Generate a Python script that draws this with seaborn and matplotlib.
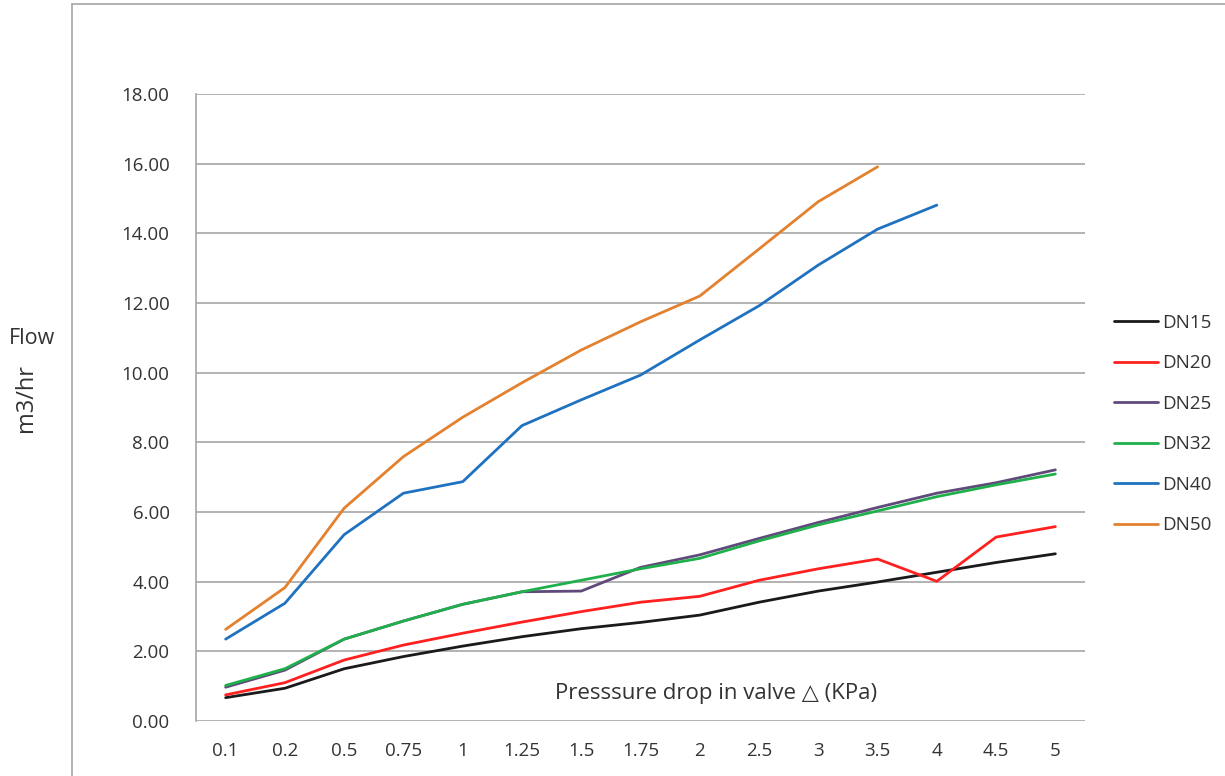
import numpy as np
import pandas as pd
import matplotlib
matplotlib.use("Agg")
import matplotlib.pyplot as plt
from matplotlib.lines import Line2D
import seaborn as sns

pressure = ["0.1", "0.2", "0.5", "0.75", "1", "1.25", "1.5", "1.75", "2", "2.5", "3", "3.5", "4", "4.5", "5"]
dn15 = [0.67, 0.94, 1.50, 1.85, 2.15, 2.42, 2.65, 2.83, 3.04, 3.41, 3.73, 3.99, 4.27, 4.55, 4.80]
dn20 = [0.75, 1.10, 1.75, 2.18, 2.52, 2.84, 3.14, 3.41, 3.58, 4.04, 4.37, 4.65, 4.01, 5.28, 5.58]
dn25 = [0.97, 1.46, 2.35, 2.87, 3.35, 3.71, 3.73, 4.41, 4.77, 5.24, 5.70, 6.13, 6.54, 6.84, 7.21]
dn32 = [1.02, 1.50, 2.35, 2.87, 3.35, 3.71, 4.04, 4.37, 4.67, 5.17, 5.63, 6.03, 6.44, 6.78, 7.09]
dn40 = [2.35, 3.38, 5.35, 6.54, 6.87, 8.48, 9.22, 9.93, 10.94, 11.92, 13.09, 14.12, 14.81, np.nan, np.nan]
dn50 = [2.63, 3.83, 6.11, 7.59, 8.72, 9.71, 10.65, 11.46, 12.20, 13.55, 14.91, 15.91, np.nan, np.nan, np.nan]
series_names = ["DN15", "DN20", "DN25", "DN32", "DN40", "DN50"]
series_values = [dn15, dn20, dn25, dn32, dn40, dn50]
colors = ["#1a1a1a", "#ff2020", "#604a7b", "#1fb04c", "#1f72c0", "#e3812f"]

rows = []
for name, vals in zip(series_names, series_values):
    for i, (p, v) in enumerate(zip(pressure, vals)):
        rows.append({"idx": i, "pressure": p, "flow": v, "size": name})
df = pd.DataFrame(rows)

sns.set_theme(style="white")
FONT = ["Open Sans", "DejaVu Sans"]
plt.rcParams["font.family"] = FONT
TXT = "#333333"

fig = plt.figure(figsize=(12.25, 7.76), dpi=100)
ax = fig.add_axes([196 / 1225, 1 - 721 / 776, (1085 - 196) / 1225, (721 - 94) / 776])

sns.lineplot(data=df, x="idx", y="flow", hue="size", hue_order=series_names,
             palette=colors, linewidth=2.0, ax=ax, legend=True, sort=False)

ax.set_xlim(-0.5, len(pressure) - 0.5)
ax.set_ylim(0, 18)
yt = np.arange(0, 18.1, 2)
ax.set_yticks(yt)
ax.set_yticklabels([f"{v:.2f}" for v in yt], fontsize=13.5, color=TXT)
ax.set_xticks(range(len(pressure)))
ax.set_xticklabels(pressure, fontsize=13.5, color=TXT)
ax.tick_params(axis="x", length=0, pad=15)
ax.tick_params(axis="y", length=0, pad=19)
ax.yaxis.grid(True, color="#a6a6a6", linewidth=1.2)
ax.set_axisbelow(True)
for s in ["top", "right", "bottom"]:
    ax.spines[s].set_visible(False)
ax.spines["left"].set_color("#a6a6a6")
ax.spines["left"].set_linewidth(1.2)
ax.set_xlabel("")
ax.set_ylabel("")

fig.text(716 / 1225, 1 - 694 / 776, "Presssure drop in valve \u25b3 (KPa)",
         ha="center", va="center", fontsize=16, color=TXT)

fig.text(32 / 1225, 1 - 339 / 776, "Flow", ha="center", va="center", fontsize=15.5, color=TXT)
fig.text(26 / 1225, 1 - 398 / 776, "m3/hr", ha="center", va="center", fontsize=17,
         rotation=90, color=TXT, family=["Liberation Sans Narrow", "Open Sans", "DejaVu Sans"])

handles, labels = ax.get_legend_handles_labels()
ax.legend(handles, labels, loc="upper left", bbox_to_anchor=(1097 / 1225, 1 - 297 / 776),
          bbox_transform=fig.transFigure, frameon=False, fontsize=13.5, handlelength=2.35,
          handletextpad=0.25, labelspacing=1.2, labelcolor=TXT)

fig.add_artist(Line2D([72 / 1225, 72 / 1225], [0, 1 - 4 / 776], transform=fig.transFigure,
                      color="#a6a6a6", linewidth=1.2))
fig.add_artist(Line2D([72 / 1225, 1], [1 - 4 / 776, 1 - 4 / 776], transform=fig.transFigure,
                      color="#a6a6a6", linewidth=1.2))

fig.savefig("out.png", dpi=100)
